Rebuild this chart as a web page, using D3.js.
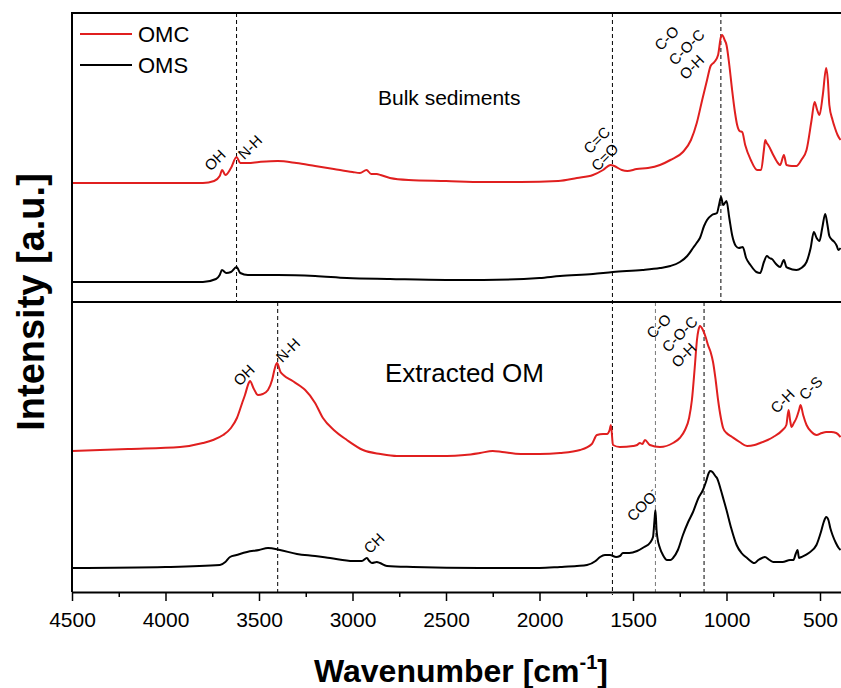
<!DOCTYPE html>
<html>
<head>
<meta charset="utf-8">
<script src="https://cdn.jsdelivr.net/npm/d3@7"></script>
<style>
  body { margin: 0; background: #fff; }
  text { font-family: "Liberation Sans", Arial, sans-serif; fill: #000; }
</style>
</head>
<body>
<svg id="chart" width="841" height="688"></svg>
<script>
// ---- data (wavenumber cm-1, intensity a.u. within each panel) ----
var omcBulkWn = [4500,3800,3740,3710,3697,3680,3650,3620,3600,3560,3500,3400,3300,3200,3100,3000,2960,2925,2900,2870,2850,2800,2700,2500,2300,2100,1900,1800,1714,1660,1620,1600,1560,1530,1480,1420,1356,1300,1233,1190,1159,1130,1104,1085,1065,1045,1030,1024,1010,1000,985,970,955,943,930,916,900,870,836,815,800,793,785,777,750,725,713,693,679,650,626,600,572,545,529,515,503,485,467,458,450,433,420,406,390];
var omcBulkI  = [119,119,121,126,132,127,134,145,139,139,140,141,139,136,133,130,129,132,128,128,127,124,122,121,120,120,121,124,127,132,137,136,132,131,133,134,137,142,150,162,179,202,222,236,240,247,265,267,262,257,237,212,190,177,171,170,157,142,132,132,152,162,159,157,147,139,137,147,137,136,136,142,152,182,200,192,187,207,234,222,197,182,174,167,162];

var omsBulkWn = [4500,3800,3730,3710,3698,3675,3650,3620,3600,3560,3400,3200,3030,2800,2500,2300,2000,1890,1714,1607,1450,1356,1300,1249,1210,1179,1160,1142,1120,1104,1078,1051,1040,1029,1018,1000,985,970,950,934,913,895,872,840,820,800,784,770,757,735,713,693,680,670,626,600,572,550,533,518,503,488,472,460,450,435,423,410,402,390];
var omsBulkI  = [20,20,23,27,32,29,30,35,29,27,27,26,24,23,22,22,24,26,28,30,32,34,36,40,46,54,59,64,76,82,87,89,97,105,97,101,84,67,56,54,55,44,37,30,29,40,46,44,43,38,35,42,35,34,32,34,40,54,70,64,61,74,88,77,66,62,60,56,52,54];

var omcExtWn = [4500,4200,3922,3800,3746,3692,3650,3618,3590,3575,3555,3548,3530,3505,3480,3452,3430,3415,3404,3385,3370,3320,3280,3253,3200,3158,3100,3030,2944,2850,2762,2600,2495,2400,2318,2250,2200,2100,2000,1890,1783,1720,1693,1660,1639,1625,1618,1607,1570,1500,1478,1463,1450,1436,1410,1356,1286,1250,1222,1200,1185,1170,1158,1150,1142,1126,1110,1099,1085,1072,1058,1045,1030,1018,1000,970,930,890,850,820,780,750,700,680,668,660,652,640,626,612,604,590,572,545,519,490,467,440,413,390];
var omcExtI  = [141,143,145,149,152,157,164,174,189,197,209,211,204,197,198,202,212,224,229,220,217,211,206,202,189,174,162,152,142,138,136,136,136,137,139,141,140,138,138,139,142,148,157,158,158,162,167,147,145,146,147,149,148,152,147,145,149,154,162,174,192,224,252,262,266,262,254,247,240,230,212,192,174,164,159,155,150,146,147,149,152,155,162,167,182,172,165,169,174,182,187,177,167,160,157,159,160,160,159,155];

var omsExtWn = [4500,4000,3709,3680,3655,3620,3564,3500,3452,3388,3297,3200,3120,2997,2950,2923,2910,2896,2870,2853,2816,2676,2318,2000,1890,1800,1746,1700,1676,1650,1623,1590,1570,1554,1520,1478,1440,1410,1393,1385,1380,1374,1370,1356,1340,1318,1300,1286,1260,1233,1205,1179,1150,1126,1110,1095,1088,1075,1060,1051,1030,1015,1000,975,946,920,890,850,830,810,795,770,750,730,700,660,642,630,620,612,600,560,519,495,480,467,455,445,433,415,400,390];
var omsExtI  = [24,25,27,30,35,37,40,42,44,42,38,36,34,31,31,34,31,29,30,29,26,25,24,24,25,26,27,31,35,37,37,35,36,39,39,41,45,49,55,72,82,62,55,44,37,32,32,34,42,57,70,80,94,102,110,119,121,120,116,114,102,92,82,64,47,39,34,29,32,34,35,32,30,30,30,32,32,38,42,34,35,39,47,60,70,75,72,64,57,49,44,42];

var xTicks = [4500,4000,3500,3000,2500,2000,1500,1000,500];
var xMinor = [4250,3750,3250,2750,2250,1750,1250,750];

var seriesNames = ["OMC","OMS"];
var seriesColors = ["#e01f1f","#000000"];

var bulkMarkers = [3620, 1030];
var extMarkers = [3400, 1380, 1120];
var sharedMarkers = [1610];

var bulkLabels = [
  {t:"OH", wn:3736, v:142}, {t:"N-H", wn:3549, v:155},
  {t:"C=C", wn:1695, v:162}, {t:"C=O", wn:1652, v:145},
  {t:"C-O", wn:1321, v:264}, {t:"C-O-C", wn:1214, v:255}, {t:"O-H", wn:1187, v:235}
];
var extLabels = [
  {t:"OH", wn:3581, v:217}, {t:"N-H", wn:3346, v:242}, {t:"CH", wn:2886, v:49},
  {t:"C-O", wn:1363, v:266}, {t:"C-O-C", wn:1251, v:258}, {t:"O-H", wn:1230, v:237},
  {t:"C-H", wn:701, v:191}, {t:"C-S", wn:551, v:204}, {t:"COO", sup:"-", wn:1449, v:87}
];

// ---- layout ----
var svg = d3.select("#chart");
var plotLeft = 72, plotRight = 841.5, plotTop = 13, plotMid = 302, plotBottom = 592;

var x = d3.scaleLinear().domain([4500, 385]).range([plotLeft, plotRight]);
var yBulk = d3.scaleLinear().domain([0, 289]).range([plotMid, plotTop]);
var yExt = d3.scaleLinear().domain([0, 290]).range([plotBottom, plotMid]);

svg.append("clipPath").attr("id", "plot")
  .append("rect").attr("x", plotLeft).attr("y", plotTop)
  .attr("width", 841 - plotLeft).attr("height", plotBottom - plotTop);

function zip(a, b) { return a.map(function(w, i) { return [w, b[i]]; }); }

function drawLine(wn, vals, y, color) {
  var line = d3.line().x(function(d) { return x(d[0]); }).y(function(d) { return y(d[1]); })
    .curve(d3.curveMonotoneX);
  svg.append("path").datum(zip(wn, vals))
    .attr("clip-path", "url(#plot)")
    .attr("fill", "none").attr("stroke", color).attr("stroke-width", 2)
    .attr("stroke-linejoin", "round")
    .attr("d", line);
}

// dashed marker lines
function marker(w, y0, y1, color) {
  svg.append("line").attr("x1", x(w)).attr("x2", x(w)).attr("y1", y0).attr("y2", y1)
    .attr("stroke", color).attr("stroke-width", 1).attr("stroke-dasharray", "4,3");
}
bulkMarkers.forEach(function(w) { marker(w, plotTop, plotMid, "#000"); });
extMarkers.forEach(function(w) { marker(w, plotMid, plotBottom + 3, w === 1380 ? "#777" : "#000"); });
sharedMarkers.forEach(function(w) { marker(w, plotTop, plotBottom + 3, "#000"); });

drawLine(omcBulkWn, omcBulkI, yBulk, seriesColors[0]);
drawLine(omsBulkWn, omsBulkI, yBulk, seriesColors[1]);
drawLine(omcExtWn, omcExtI, yExt, seriesColors[0]);
drawLine(omsExtWn, omsExtI, yExt, seriesColors[1]);

// frame
svg.append("line").attr("x1", plotLeft).attr("x2", 841).attr("y1", plotTop).attr("y2", plotTop)
  .attr("stroke", "#000").attr("stroke-width", 2);
svg.append("line").attr("x1", plotLeft).attr("x2", 841).attr("y1", plotMid).attr("y2", plotMid)
  .attr("stroke", "#000").attr("stroke-width", 2);
svg.append("line").attr("x1", plotLeft).attr("x2", plotLeft).attr("y1", plotTop - 1).attr("y2", plotBottom)
  .attr("stroke", "#000").attr("stroke-width", 2);

// x axis
var gx = svg.append("g").attr("transform", "translate(0," + plotBottom + ")")
  .call(d3.axisBottom(x).tickValues(xTicks).tickSize(9).tickSizeOuter(0).tickPadding(11)
    .tickFormat(d3.format("d")));
gx.select(".domain").attr("stroke-width", 2);
gx.selectAll(".tick line").attr("stroke-width", 1.5);
gx.selectAll(".tick text").attr("font-size", 21).attr("font-family", "Liberation Sans, Arial, sans-serif");
svg.append("g").attr("transform", "translate(0," + plotBottom + ")")
  .call(d3.axisBottom(x).tickValues(xMinor).tickSize(5).tickFormat(""))
  .call(function(g) { g.select(".domain").remove(); })
  .selectAll("line").attr("stroke-width", 1.5);

// axis titles
var xt = svg.append("text").attr("x", 461).attr("y", 682).attr("text-anchor", "middle")
  .attr("font-size", 32).attr("font-weight", "bold");
xt.append("tspan").text("Wavenumber [cm");
xt.append("tspan").attr("font-size", 20).attr("dy", -13).text("-1");
xt.append("tspan").attr("dy", 13).text("]");

svg.append("text").attr("transform", "translate(44,302) rotate(-90)")
  .attr("text-anchor", "middle").attr("font-size", 38).attr("font-weight", "bold")
  .text("Intensity [a.u.]");

// panel titles
svg.append("text").attr("x", 378).attr("y", 105).attr("font-size", 21).text("Bulk sediments");
svg.append("text").attr("x", 385).attr("y", 382).attr("font-size", 26).text("Extracted OM");

// legend
seriesNames.forEach(function(n, i) {
  var ly = 34 + i * 31;
  svg.append("line").attr("x1", 80).attr("x2", 132).attr("y1", ly).attr("y2", ly)
    .attr("stroke", seriesColors[i]).attr("stroke-width", 2);
  svg.append("text").attr("x", 138).attr("y", ly + 8).attr("font-size", 22).text(n);
});

// band labels
function bandLabels(list, y) {
  list.forEach(function(d) {
    var t = svg.append("text")
      .attr("transform", "translate(" + x(d.wn) + "," + y(d.v) + ") rotate(-45)")
      .attr("text-anchor", "middle").attr("dominant-baseline", "central")
      .attr("font-size", 15).text(d.t);
    if (d.sup) t.append("tspan").attr("dy", -5).attr("font-size", 10).text(d.sup);
  });
}
bandLabels(bulkLabels, yBulk);
bandLabels(extLabels, yExt);
</script>
</body>
</html>
